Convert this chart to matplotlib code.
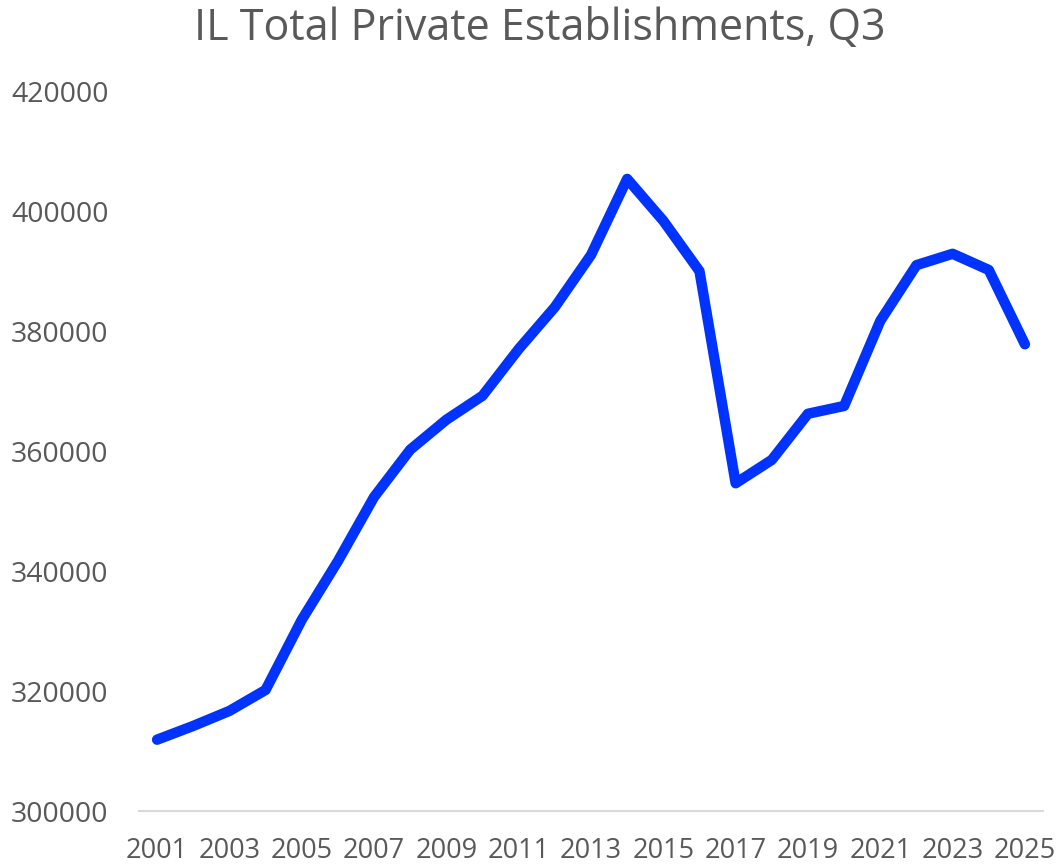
import matplotlib
matplotlib.use("Agg")
import matplotlib.pyplot as plt

# Q3 private establishment counts, Illinois
years = list(range(2001, 2026))
establishments = [
    311900, 314200, 316700, 320200, 331900, 341700, 352400, 360300,
    365300, 369300, 377100, 384100, 392800, 405500, 398500, 390100,
    354700, 358600, 366300, 367600, 381800, 391100, 393000, 390300,
    377900,
]
tick_years = years[::2]

plt.rcParams['font.family'] = ['Open Sans', 'DejaVu Sans']
text_color = '#595959'

fig = plt.figure(figsize=(10.59, 8.67), dpi=100)
ax = fig.add_axes([139 / 1059, 1 - 811 / 867, (1043 - 139) / 1059, (811 - 92) / 867])

ax.plot(years, establishments, color='#0033ff', linewidth=7.5,
        solid_capstyle='round', solid_joinstyle='round')

ax.set_xlim(2000.5, 2025.5)
ax.set_ylim(300000, 420000)
ax.set_yticks(range(300000, 420001, 20000))
ax.set_xticks(tick_years)
ax.set_xticklabels([str(y) for y in tick_years])

for side in ['top', 'right', 'left']:
    ax.spines[side].set_visible(False)
ax.spines['bottom'].set_color('#d9d9d9')
ax.spines['bottom'].set_linewidth(1.5)

ax.tick_params(axis='both', length=0, colors=text_color)
ax.tick_params(axis='y', pad=22, labelsize=20.5)
ax.tick_params(axis='x', pad=19, labelsize=19.5)

fig.text(0.51, 1 - 29 / 867, 'IL Total Private Establishments, Q3',
         ha='center', va='center', fontsize=31, color=text_color)

fig.savefig('out.png', dpi=100)
